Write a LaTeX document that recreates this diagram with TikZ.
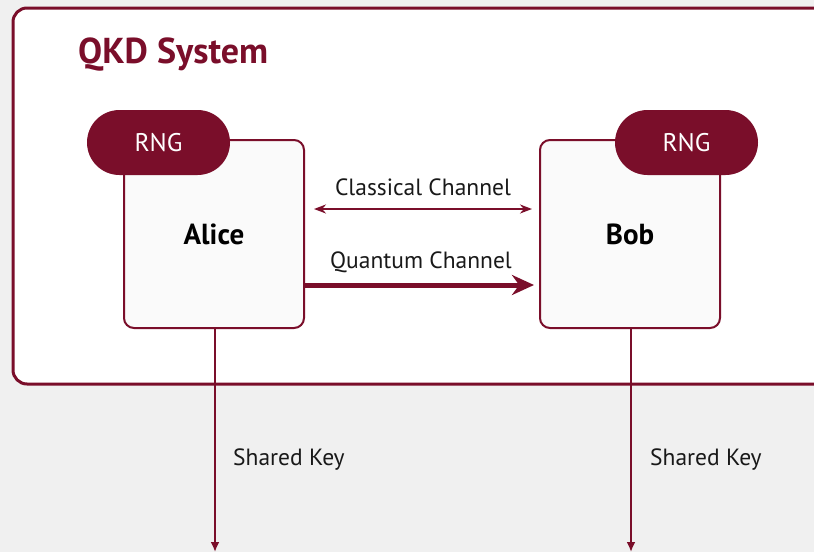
\documentclass[tikz,border=0pt]{standalone}
\usepackage{fontspec}
\setmainfont{PT Sans}
\usetikzlibrary{arrows.meta,calc}
\definecolor{maroon}{RGB}{122,14,42}
\definecolor{bgray}{RGB}{240,240,240}
\definecolor{boxfill}{RGB}{250,250,250}
\definecolor{txt}{RGB}{25,25,25}
\tikzset{
  frame/.style={draw=maroon, line width=3pt, fill=white, rounded corners=14pt, minimum width=817pt, minimum height=376pt, inner sep=0pt},
  party/.style={draw=maroon, line width=2pt, fill=boxfill, rounded corners=10pt, minimum width=180pt, minimum height=188pt, inner sep=0pt, font=\fontsize{29}{34}\selectfont\bfseries, text=black},
  pill/.style={fill=maroon, rounded corners=32.5pt, minimum width=143pt, minimum height=65pt, inner sep=0pt, text=white, font=\fontsize{25.5}{30}\selectfont},
  title/.style={text=maroon, font=\fontsize{36}{43}\selectfont\bfseries, inner sep=0pt},
  lbl/.style={text=txt, font=\fontsize{23.5}{28}\selectfont, inner sep=0pt},
  conn/.style={draw=maroon, line width=2pt},
}
\begin{document}
\begin{tikzpicture}[x=1pt,y=-1pt]
\fill[bgray] (0,0) rectangle (814,552);
\useasboundingbox (0,0) rectangle (814,552);
\begin{scope}
\clip (0,0) rectangle (814,552);
\node[frame] (sys) at (421.5,196) {};
\end{scope}
\node[title, anchor=west] (ttl) at (78,55) {QKD System};
\node[party] (alice) at (214,234) {Alice};
\node[party] (bob) at (630,234) {Bob};
\node[pill] (arng) at (158.5,142.5) {RNG};
\node[pill] (brng) at (686.5,142.5) {RNG};
\coordinate (cs) at ($(alice.east)+(9,-25)$);
\coordinate (ce) at ($(bob.west)+(-7,-25)$);
\draw[conn, {Stealth[length=12pt,width=9pt]}-{Stealth[length=12pt,width=9pt]}] (cs) -- (ce);
\node[lbl] (cl) at (423,187) {Classical Channel};
\coordinate (qs) at ($(alice.east)+(0,51)$);
\coordinate (qe) at ($(bob.west)+(-5,51)$);
\draw[draw=maroon, line width=5pt, -{Stealth[length=22pt,width=20pt]}] (qs) -- (qe);
\node[lbl] (ql) at (421,262) {Quantum Channel};
\coordinate (ad) at (215,552);
\coordinate (bd) at (631,552);
\draw[conn, -{Latex[length=10pt,width=9pt]}] (alice.south -| ad) -- (ad);
\draw[conn, -{Latex[length=10pt,width=9pt]}] (bob.south -| bd) -- (bd);
\node[lbl, anchor=west] (ak) at (233,460) {Shared Key};
\node[lbl, anchor=west] (bk) at (650,460) {Shared Key};
\end{tikzpicture}
\end{document}
